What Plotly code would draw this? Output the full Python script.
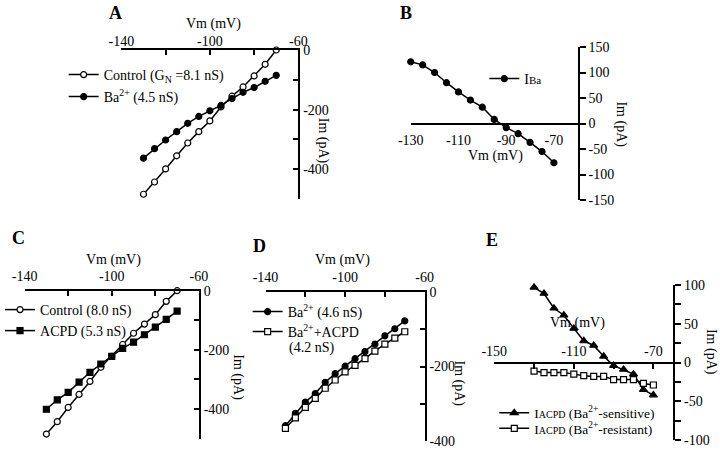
import plotly.graph_objects as go

W, H = 720, 457
FONT = "Liberation Serif"

# ---------------- data ----------------
vm = [-130, -125, -120, -115, -110, -105, -100, -95, -90, -85, -80, -75, -70]

a_control = [-484, -443, -399, -355, -312, -274, -238, -191, -155, -124, -87, -48, 0]
a_ba = [-363, -331, -302, -274, -246, -223, -204, -186, -163, -142, -126, -105, -85]

b_iba = [121, 115, 100, 80, 62, 46, 32, 8, -8, -20, -37, -55, -77]

c_control = [-485, -443, -395, -351, -307, -259, -222, -182, -144, -113, -81, -36, 0]
c_acpd = [-401, -369, -344, -309, -276, -248, -222, -195, -174, -149, -123, -97, -69]

d_ba = [-358, -325, -295, -272, -242, -219, -199, -179, -160, -140, -118, -99, -78]
d_ba_acpd = [-365, -337, -309, -285, -258, -236, -214, -197, -179, -159, -140, -124, -107]

e_sensitive = [97, 89, 70, 61, 44, 28, 22, 8, -4, -9, -15, -35, -42]
e_resistant = [-11, -13, -13, -13, -15, -17, -18, -18, -22, -22, -22, -27, -29]

# tick values
x140_major = [-140, -100, -60]
x140_minor = [-120, -80]
b_xticks = [-130, -110, -90, -70]
b_yticks = [-150, -100, -50, 0, 50, 100, 150]
y500_major = [0, -200, -400]
y500_minor = [-100, -300, -500]
y400_major = [0, -200, -400]
y400_minor = [-100, -300]
e_xmajor = [-150, -110, -70]
e_xminor = [-130, -90]
e_ymajor = [-100, -50, 0, 50, 100]
e_yminor = [-75, -25, 25, 75]


def labels(vals):
    # plain hyphen-minus, as in the original figure
    return [str(v) for v in vals]


def xd(p0, p1):
    return [p0 / W, p1 / W]


def yd(top, bottom):
    return [1 - bottom / H, 1 - top / H]


fig = go.Figure()

LINE = dict(color="black", width=1.5)


def mk(symbol, filled, size=6):
    return dict(symbol=symbol, size=size,
                color="black" if filled else "white",
                line=dict(color="black", width=1.2))


def add(x, y, name, marker, xa, ya, legend):
    fig.add_trace(go.Scatter(x=x, y=y, name=name, mode="lines+markers",
                             line=LINE, marker=marker, xaxis=xa, yaxis=ya,
                             legend=legend, cliponaxis=False))


SENS = "I<span style='font-size:10px'>ACPD</span> (Ba<sup>2+</sup>-sensitive)"
RES = "I<span style='font-size:10px'>ACPD</span> (Ba<sup>2+</sup>-resistant)"

add(vm, a_control, "Control (G<sub>N</sub> =8.1 nS)", mk("circle", False), "x", "y", "legend")
add(vm, a_ba, "Ba<sup>2+</sup> (4.5 nS)", mk("circle", True), "x", "y", "legend2")
add(vm, b_iba, "I<span style='font-size:11px'>Ba</span>", mk("circle", True), "x2", "y2", "legend3")
add(vm, c_control, "Control (8.0 nS)", mk("circle", False), "x3", "y3", "legend4")
add(vm, c_acpd, "ACPD (5.3 nS)", mk("square", True), "x3", "y3", "legend5")
add(vm, d_ba, "Ba<sup>2+</sup> (4.6 nS)", mk("circle", True), "x4", "y4", "legend6")
add(vm, d_ba_acpd, "Ba<sup>2+</sup>+ACPD", mk("square", False), "x4", "y4", "legend7")
add(vm, e_sensitive, SENS, mk("triangle-up", True, 7), "x5", "y5", "legend8")
add(vm, e_resistant, RES, mk("square", False), "x5", "y5", "legend9")

TF = dict(family=FONT, size=14, color="black")
common = dict(showline=True, linecolor="black", linewidth=2, showgrid=False,
              zeroline=False, tickfont=TF, tickcolor="black", tickwidth=1.5,
              automargin=False, fixedrange=True)


def minor(vals, ticks, length):
    return dict(tickvals=vals, ticks=ticks, ticklen=length, tickcolor="black",
                tickwidth=1.5, showgrid=False)


layout = dict(
    width=W, height=H, margin=dict(l=0, r=0, t=0, b=0),
    paper_bgcolor="white", plot_bgcolor="white",
    font=TF, showlegend=True,
    # Panel A
    xaxis=dict(domain=xd(118, 296), range=[-140, -60], side="top", anchor="y",
               tickvals=x140_major, ticktext=labels(x140_major), ticks="inside", ticklen=5,
               ticklabelstandoff=-4, minor=minor(x140_minor, "inside", 5), **common),
    yaxis=dict(domain=yd(50, 199), range=[-500, 0], side="right", anchor="x",
               tickvals=y500_major, ticktext=labels(y500_major), ticks="inside", ticklen=5,
               minor=minor(y500_minor, "inside", 5), **common),
    # Panel B
    xaxis2=dict(domain=xd(409, 577), range=[-130, -60], side="bottom", anchor="free",
                position=1 - 124.3 / H, tickvals=b_xticks, ticktext=labels(b_xticks),
                ticks="", ticklabelstandoff=3, **common),
    yaxis2=dict(domain=yd(47, 200), range=[-150, 150], side="right", anchor="x2",
                tickvals=b_yticks, ticktext=labels(b_yticks), ticks="outside", ticklen=6, **common),
    # Panel C
    xaxis3=dict(domain=xd(20.7, 196), range=[-140, -60], side="top", anchor="y3",
                tickvals=x140_major, ticktext=labels(x140_major), ticks="inside", ticklen=5,
                ticklabelstandoff=2, minor=minor(x140_minor, "inside", 5), **common),
    yaxis3=dict(domain=yd(290.7, 438.5), range=[-500, 0], side="right", anchor="x3",
                tickvals=y500_major, ticktext=labels(y500_major), ticks="inside", ticklen=5,
                minor=minor(y500_minor, "inside", 5), **common),
    # Panel D
    xaxis4=dict(domain=xd(263, 423), range=[-140, -60], side="top", anchor="y4",
                tickvals=x140_major, ticktext=labels(x140_major), ticks="inside", ticklen=5,
                ticklabelstandoff=2, minor=minor(x140_minor, "inside", 5), **common),
    yaxis4=dict(domain=yd(291.7, 441.4), range=[-400, 0], side="right", anchor="x4",
                tickvals=y400_major, ticktext=labels(y400_major), ticks="inside", ticklen=5,
                minor=minor(y400_minor, "inside", 5), **common),
    # Panel E
    xaxis5=dict(domain=xd(493, 673), range=[-150, -60], side="top", anchor="free",
                position=1 - 362.5 / H, tickvals=e_xmajor, ticktext=labels(e_xmajor),
                ticks="inside", ticklen=5, minor=minor(e_xminor, "inside", 5), **common),
    yaxis5=dict(domain=yd(285, 440), range=[-100, 100], side="right", anchor="x5",
                tickvals=e_ymajor, ticktext=labels(e_ymajor), ticks="outside", ticklen=6,
                minor=minor(e_yminor, "outside", 6), **common),
)


def leg(text_x, row_y, size=14):
    return dict(x=(text_x - 40) / W, y=1 - row_y / H, xanchor="left", yanchor="middle",
                bgcolor="rgba(0,0,0,0)", borderwidth=0,
                font=dict(family=FONT, size=size, color="black"), itemwidth=30,
                itemclick=False, itemdoubleclick=False)


layout["legend"] = leg(100, 75)
layout["legend2"] = leg(100, 97)
layout["legend3"] = leg(523, 79)
layout["legend4"] = leg(36, 310)
layout["legend5"] = leg(36, 331)
layout["legend6"] = leg(285, 312)
layout["legend7"] = leg(285, 332)
layout["legend8"] = leg(533, 413, 13.5)
layout["legend9"] = leg(533, 428.5, 13.5)

fig.update_layout(**layout)

ann = []


def text(x, y, s, size=14, bold=False, angle=0, xanchor="center"):
    ann.append(dict(x=x / W, y=1 - y / H, xref="paper", yref="paper", text=s,
                    showarrow=False, textangle=angle, xanchor=xanchor, yanchor="middle",
                    font=dict(family=FONT, size=size, color="black",
                              weight="bold" if bold else "normal")))


for lab, px, py in [("A", 112, 13), ("B", 404, 13), ("C", 15, 238), ("D", 257, 246), ("E", 491, 240)]:
    text(px, py, lab, size=18, bold=True)

for px, py in [(211, 24), (494, 156), (110, 260), (340, 260), (577, 323)]:
    text(px, py, "Vm (mV)")

for px, py in [(321, 141), (620, 124), (235, 377), (458, 384), (711, 352)]:
    text(px, py, "Im (pA)", angle=90)

text(285, 347.5, "(4.2 nS)", xanchor="left")

fig.update_layout(annotations=ann)

fig.write_html("out.html", config={"displayModeBar": False},
               post_script="document.body.style.margin='0';document.body.style.padding='0';")
